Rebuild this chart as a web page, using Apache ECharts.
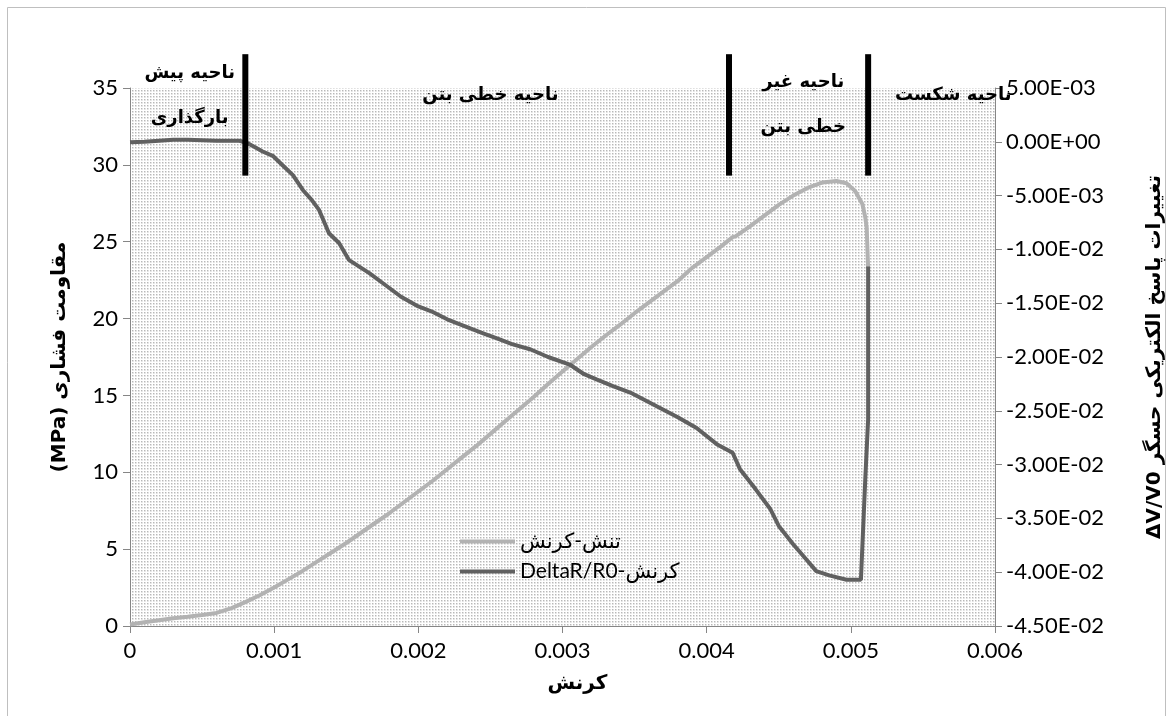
<!DOCTYPE html>
<html>
<head>
<meta charset="utf-8">
<script src="https://cdn.jsdelivr.net/npm/echarts@6/dist/echarts.min.js"></script>
<style>
  html, body { margin: 0; padding: 0; background: #fff; }
  #chart { width: 1173px; height: 716px; }
</style>
</head>
<body>
<div id="chart"></div>
<script>
// Stress–strain curve (left axis, MPa)
const stressStrain = [0, 0.0001, 0.0002, 0.0003, 0.0004, 0.0005, 0.0006, 0.0007, 0.0008, 0.0009,
  0.001, 0.0011, 0.0012, 0.0013, 0.0014, 0.0015, 0.0016, 0.0017, 0.0018, 0.0019,
  0.002, 0.0021, 0.0022, 0.0023, 0.0024, 0.0025, 0.0026, 0.0027, 0.0028, 0.0029,
  0.003, 0.0031, 0.0032, 0.0033, 0.0034, 0.0035, 0.0036, 0.0037, 0.0038, 0.0039,
  0.004, 0.0041, 0.00418, 0.0042, 0.0043, 0.0044, 0.0045, 0.0046, 0.0047, 0.0048,
  0.0049, 0.00497, 0.00503, 0.00508, 0.0051, 0.00511, 0.00512];
const stressValues = [0.1, 0.25, 0.38, 0.5, 0.6, 0.72, 0.85, 1.15, 1.55, 2.0,
  2.5, 3.05, 3.6, 4.2, 4.8, 5.4, 6.05, 6.7, 7.35, 8.05,
  8.75, 9.45, 10.2, 10.95, 11.7, 12.5, 13.3, 14.1, 14.9, 15.75,
  16.55, 17.35, 18.15, 18.9, 19.6, 20.35, 21.05, 21.75, 22.45, 23.3,
  24.0, 24.7, 25.3, 25.35, 26.0, 26.7, 27.4, 28.0, 28.5, 28.85,
  28.95, 28.8, 28.3, 27.45, 26.6, 25.9, 23.3];

// Sensor response DeltaR/R0 against strain (right axis)
const deltaStrain = [0, 0.0001, 0.0002, 0.0003, 0.0004, 0.0005, 0.0006, 0.0007, 0.00076, 0.00082,
  0.00088, 0.00092, 0.00099, 0.00106, 0.00113, 0.0012, 0.00126, 0.00131, 0.00138, 0.00145,
  0.00152, 0.00159, 0.00166, 0.00175, 0.00188, 0.002, 0.00209, 0.0022, 0.00232, 0.00245,
  0.00255, 0.00265, 0.00278, 0.0029, 0.00305, 0.00315, 0.00324, 0.00335, 0.00347, 0.0036,
  0.0037, 0.0038, 0.00393, 0.00407, 0.00418, 0.00423, 0.00434, 0.00444, 0.0045, 0.0046,
  0.00469, 0.00476, 0.00485, 0.00497, 0.00507, 0.0051, 0.00512, 0.00512];
const deltaValues = [-0.00005, 0.0, 0.0001, 0.00018, 0.00018, 0.00015, 0.0001, 0.0001, 0.0001, -0.00015,
  -0.0006, -0.0009, -0.0013, -0.0022, -0.0031, -0.0045, -0.0054, -0.0063, -0.0085, -0.0094,
  -0.011, -0.0116, -0.0122, -0.0131, -0.0144, -0.0153, -0.01575, -0.0165, -0.01714, -0.0178,
  -0.0183, -0.0188, -0.0193, -0.02, -0.0207, -0.0216, -0.0221, -0.0227, -0.0233, -0.0242,
  -0.0249, -0.0256, -0.0266, -0.0281, -0.0289, -0.0304, -0.0323, -0.0341, -0.0357, -0.0374,
  -0.0388, -0.0399, -0.0403, -0.0407, -0.0407, -0.0314, -0.0258, -0.0116];

// Zone boundaries (strain) and the stress span of the separator bars
const zoneBounds = [0.0008, 0.004155, 0.00512];
const barSpan = [29.3, 37.2];

// Zone captions: text lines and their anchor (strain, stress)
const zoneCaptions = [
  { lines: ['ناحیه پیش', 'بارگذاری'], at: [0.000414, 34.5] },
  { lines: ['ناحیه خطی بتن'], at: [0.00250, 34.5] },
  { lines: ['ناحیه غیر', 'خطی بتن'], at: [0.00467, 33.9] },
  { lines: ['ناحیه شکست'], at: [0.00571, 34.5] }
];

const seriesNames = ['تنش-کرنش', 'DeltaR/R0-کرنش'];
const xTitle = 'کرنش';
const yLeftTitle = '(MPa) مقاومت فشاری';
const yRightTitle = 'ΔV/V0 تغییرات پاسخ الکتریکی حسگر';

// Dotted fill for the plotting area
function dotPattern() {
  const c = document.createElement('canvas');
  c.width = 3; c.height = 3;
  const g = c.getContext('2d');
  g.fillStyle = '#ffffff'; g.fillRect(0, 0, 3, 3);
  g.fillStyle = '#b8b8b8'; g.fillRect(0, 0, 1, 1);
  g.fillStyle = '#e0e0e0'; g.fillRect(1, 0, 1, 1); g.fillRect(0, 1, 1, 1);
  g.fillStyle = '#ebebeb'; g.fillRect(1, 1, 1, 1);
  return { image: c, repeat: 'repeat' };
}

function sci(v) {
  if (Math.abs(v) < 1e-12) return '0.00E+00';
  const parts = v.toExponential(2).split('e');
  const sign = parts[1][0] === '-' ? '-' : '+';
  let d = parts[1].replace(/[+-]/, '');
  if (d.length < 2) d = '0' + d;
  return parts[0] + 'E' + sign + d;
}

const latin = 'Lato, "DejaVu Sans", sans-serif';
const persianBold = '"DejaVu Sans", sans-serif';
const axisGray = '#868686';

const chart = echarts.init(document.getElementById('chart'), null, { renderer: 'canvas' });

chart.setOption({
  animation: false,
  backgroundColor: '#ffffff',
  grid: {
    left: 130, right: 173, top: 88, bottom: 90,
    show: true, borderWidth: 0, backgroundColor: dotPattern()
  },
  legend: {
    orient: 'vertical',
    left: 455, top: 526,
    icon: 'rect', itemWidth: 55, itemHeight: 4, itemGap: 9,
    textStyle: { fontFamily: latin, fontSize: 21, color: '#000' },
    data: seriesNames
  },
  xAxis: {
    type: 'value', min: 0, max: 0.006, interval: 0.001,
    name: xTitle, nameLocation: 'middle', nameGap: 48,
    nameTextStyle: { fontFamily: persianBold, fontWeight: 'bold', fontSize: 20, color: '#000', padding: [0, 0, 0, 30] },
    axisLine: { show: true, onZero: false, lineStyle: { color: axisGray, width: 1 } },
    axisTick: { show: true, length: 7, lineStyle: { color: axisGray } },
    axisLabel: { fontFamily: latin, fontSize: 22, color: '#000', margin: 14,
      formatter: v => (v === 0 ? '0' : v.toFixed(3)) },
    splitLine: { show: false }
  },
  yAxis: [
    {
      type: 'value', position: 'left', min: 0, max: 35, interval: 5,
      name: yLeftTitle, nameLocation: 'middle', nameRotate: 90, nameGap: 60,
      nameTextStyle: { fontFamily: persianBold, fontWeight: 'bold', fontSize: 20, color: '#000' },
      axisLine: { show: true, lineStyle: { color: axisGray, width: 1 } },
      axisTick: { show: true, length: 7, lineStyle: { color: axisGray } },
      axisLabel: { fontFamily: latin, fontSize: 22, color: '#000', margin: 12 },
      splitLine: { show: false }
    },
    {
      type: 'value', position: 'right', min: -0.045, max: 0.005, interval: 0.005,
      name: yRightTitle, nameLocation: 'middle', nameRotate: 90, nameGap: 150,
      nameTextStyle: { fontFamily: persianBold, fontWeight: 'bold', fontSize: 20, color: '#000' },
      axisLine: { show: true, lineStyle: { color: axisGray, width: 1 } },
      axisTick: { show: true, length: 7, lineStyle: { color: axisGray } },
      axisLabel: { fontFamily: latin, fontSize: 22, color: '#000', margin: 11, formatter: sci },
      splitLine: { show: false }
    }
  ],
  series: [
    {
      name: seriesNames[0], type: 'line', yAxisIndex: 0,
      showSymbol: false, symbol: 'none',
      lineStyle: { color: '#b2b2b2', width: 4 }, itemStyle: { color: '#b2b2b2' },
      data: stressStrain.map((s, i) => [s, stressValues[i]])
    },
    {
      name: seriesNames[1], type: 'line', yAxisIndex: 1,
      showSymbol: false, symbol: 'none',
      lineStyle: { color: '#606060', width: 4 }, itemStyle: { color: '#606060' },
      data: deltaStrain.map((s, i) => [s, deltaValues[i]])
    }
  ]
});

// Separator bars, zone captions and the chart-area frame, placed through the axes
function toPx(x, y) {
  return chart.convertToPixel({ xAxisIndex: 0, yAxisIndex: 0 }, [x, y]);
}
const graphics = [
  { type: 'rect', silent: true, z: 0,
    shape: { x: 7.5, y: 7.5, width: 1158, height: 720 },
    style: { fill: 'none', stroke: '#bfbfbf', lineWidth: 1 } }
];
zoneBounds.forEach(b => {
  const top = toPx(b, barSpan[1]);
  const bot = toPx(b, barSpan[0]);
  graphics.push({ type: 'rect', silent: true, z: 20,
    shape: { x: top[0] - 3, y: top[1], width: 6, height: bot[1] - top[1] },
    style: { fill: '#000' } });
});
zoneCaptions.forEach(c => {
  const p = toPx(c.at[0], c.at[1]);
  graphics.push({ type: 'text', silent: true, z: 20, x: p[0], y: p[1],
    style: { text: c.lines.join('\n'), fill: '#000', align: 'center', verticalAlign: 'middle',
      font: 'bold 18px ' + persianBold, lineHeight: 45 } });
});
chart.setOption({ graphic: graphics });
</script>
</body>
</html>
